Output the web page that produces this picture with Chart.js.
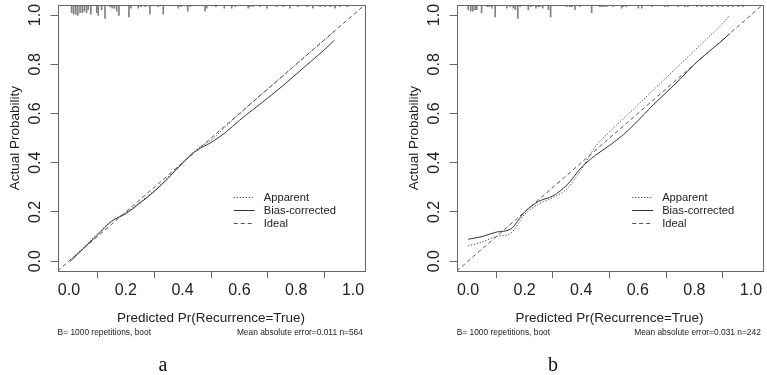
<!DOCTYPE html>
<html>
<head>
<meta charset="utf-8">
<script src="https://cdn.jsdelivr.net/npm/chart.js@4.4.1/dist/chart.umd.min.js"></script>
<style>
html, body { margin: 0; padding: 0; background: #fff; }
#wrap { position: relative; width: 767px; height: 375px; overflow: hidden; }
canvas { position: absolute; top: 0; }
#calA { left: 0; }
#calB { left: 384px; }
</style>
</head>
<body>
<div id="wrap">
  <canvas id="calA" width="384" height="375"></canvas>
  <canvas id="calB" width="383" height="375"></canvas>
</div>
<script>
'use strict';

// axis ticks (both panels)
const tickValues = [0, 0.2, 0.4, 0.6, 0.8, 1.0];
const axisRange = [-0.04, 1.04];
const idealLine = [-0.04, 1.04];

// panel a: calibration curves
const predA = [0.005, 0.05, 0.1, 0.15, 0.2, 0.25, 0.3, 0.35, 0.4, 0.45, 0.5, 0.55, 0.6, 0.65, 0.7, 0.75, 0.8, 0.85, 0.9, 0.935];
const apparentA = [0.005, 0.055, 0.11, 0.163, 0.197, 0.24, 0.286, 0.342, 0.402, 0.455, 0.492, 0.545, 0.598, 0.65, 0.70, 0.75, 0.80, 0.85, 0.90, 0.935];
const biasA = [0.0, 0.05, 0.106, 0.162, 0.193, 0.236, 0.283, 0.338, 0.398, 0.45, 0.482, 0.522, 0.572, 0.618, 0.663, 0.71, 0.76, 0.81, 0.86, 0.898];

// panel a: rug of predicted values (x, frequency)
const rugXA = [0.0095, 0.0165, 0.024, 0.031, 0.039, 0.047, 0.054, 0.062, 0.068, 0.077, 0.098, 0.103, 0.115, 0.127, 0.144, 0.152, 0.16, 0.168, 0.176,
  0.211, 0.218, 0.244, 0.254, 0.268, 0.285, 0.314, 0.332, 0.385, 0.394, 0.418, 0.426, 0.479, 0.485, 0.517, 0.547, 0.573, 0.585, 0.631, 0.637,
  0.648, 0.673, 0.697, 0.732, 0.754, 0.778, 0.806, 0.838, 0.859, 0.884, 0.901, 0.919, 0.937, 0.954, 0.979];
const rugNA = [5, 6, 6, 7, 5, 5, 4, 5, 3, 6, 5, 7, 3, 9, 1, 2, 2, 4, 7,
  8, 2, 2, 1, 1, 6, 1, 6, 2, 1, 4, 1, 4, 2, 1, 2, 2, 1, 2, 1,
  1, 1, 2, 1, 1, 2, 1, 1, 2, 1, 1, 1, 2, 1, 1];

// panel b: calibration curves
const predB = [0.0, 0.05, 0.1, 0.15, 0.2, 0.25, 0.3, 0.35, 0.4, 0.45, 0.5, 0.55, 0.6, 0.65, 0.7, 0.75, 0.8, 0.85, 0.9, 0.925];
const apparentB = [0.062, 0.078, 0.10, 0.113, 0.19, 0.232, 0.258, 0.295, 0.372, 0.465, 0.525, 0.58, 0.635, 0.69, 0.745, 0.80, 0.855, 0.91, 0.965, 1.0];
const biasB = [0.089, 0.10, 0.118, 0.13, 0.20, 0.243, 0.265, 0.31, 0.38, 0.43, 0.47, 0.515, 0.57, 0.63, 0.685, 0.74, 0.80, 0.85, 0.898, 0.925];

// panel b: rug
const rugXB = [0.001, 0.0095, 0.017, 0.025, 0.031, 0.048, 0.068, 0.075, 0.084, 0.096, 0.137, 0.148, 0.16, 0.167, 0.176, 0.184,
  0.213, 0.222, 0.24, 0.248, 0.254, 0.264, 0.284, 0.292, 0.349, 0.36, 0.366, 0.378, 0.396, 0.437, 0.466, 0.473, 0.481, 0.49,
  0.513, 0.543, 0.549, 0.56, 0.602, 0.614, 0.65, 0.696, 0.707, 0.742, 0.767, 0.777, 0.809, 0.827, 0.845, 0.862, 0.883, 0.901,
  0.919, 0.936, 0.954, 0.972];
const rugNB = [3, 4, 4, 3, 3, 5, 1, 1, 2, 8, 2, 1, 2, 3, 9, 1,
  3, 1, 2, 1, 1, 2, 3, 8, 1, 1, 1, 3, 1, 5, 1, 1, 1, 1,
  1, 2, 1, 1, 2, 2, 1, 1, 1, 1, 1, 1, 1, 1, 1, 1, 1, 1,
  1, 1, 1, 1];

const legendLabels = ['Apparent', 'Bias-corrected', 'Ideal'];
const xTitle = 'Predicted Pr(Recurrence=True)';
const yTitle = 'Actual Probability';
const subLeft = 'B= 1000 repetitions, boot';

const FONT = '"Liberation Sans", Arial, sans-serif';
const RUG_UNIT = 0.006;
const STYLES = [
  { color: '#444', dash: [1.2, 1.8], width: 1 },   // apparent
  { color: '#333', dash: [], width: 1 },           // bias-corrected
  { color: '#555', dash: [4, 3], width: 1 }        // ideal
];

// draws the R-style frame, labels, legend and panel letter
const rDecor = {
  id: 'rDecor',
  afterDraw(chart, args, o) {
    const { ctx, chartArea: a, scales: { x, y } } = chart;
    ctx.save();
    ctx.strokeStyle = '#666';
    ctx.lineWidth = 1;
    ctx.setLineDash([]);
    ctx.strokeRect(Math.round(a.left) + 0.5, Math.round(a.top) + 0.5,
      Math.round(a.right - a.left), Math.round(a.bottom - a.top));

    ctx.fillStyle = '#222';
    ctx.textAlign = 'center';
    ctx.textBaseline = 'middle';
    ctx.font = '16px ' + FONT;
    x.ticks.forEach(t => ctx.fillText(t.value.toFixed(1), x.getPixelForValue(t.value), a.bottom + 20));
    y.ticks.forEach(t => {
      ctx.save();
      ctx.translate(a.left - 22, y.getPixelForValue(t.value));
      ctx.rotate(-Math.PI / 2);
      ctx.fillText(t.value.toFixed(1), 0, 0);
      ctx.restore();
    });

    ctx.font = '13.5px ' + FONT;
    ctx.fillText(xTitle, (a.left + a.right) / 2, a.bottom + 47);
    ctx.save();
    ctx.translate(a.left - 42.5, (a.top + a.bottom) / 2);
    ctx.rotate(-Math.PI / 2);
    ctx.fillText(yTitle, 0, 0);
    ctx.restore();

    ctx.font = '8.4px ' + FONT;
    ctx.textAlign = 'left';
    ctx.fillText(subLeft, a.left, a.bottom + 62);
    ctx.textAlign = 'right';
    ctx.fillText(o.mae, a.right - 1.5, a.bottom + 62);

    // legend
    const lx = x.getPixelForValue(0.58);
    const ly = y.getPixelForValue(0.26);
    ctx.font = '11.2px ' + FONT;
    ctx.textAlign = 'left';
    legendLabels.forEach((lab, i) => {
      const st = STYLES[i];
      const yy = Math.round(ly + i * 13) + 0.5;
      ctx.beginPath();
      ctx.strokeStyle = st.color;
      ctx.lineWidth = st.width;
      ctx.setLineDash(st.dash);
      ctx.moveTo(lx, yy);
      ctx.lineTo(lx + 21, yy);
      ctx.stroke();
      ctx.fillText(lab, lx + 30, yy);
    });
    ctx.setLineDash([]);

    ctx.fillStyle = '#111';
    ctx.textAlign = 'center';
    ctx.font = '20px "Liberation Serif", "Times New Roman", serif';
    ctx.fillText(o.letter, o.letterX, 366);
    ctx.restore();
  }
};

function axisOpts(fitFn) {
  return {
    type: 'linear',
    min: axisRange[0],
    max: axisRange[1],
    offset: false,
    afterBuildTicks: s => { s.ticks = tickValues.map(v => ({ value: v })); },
    afterFit: fitFn,
    ticks: { display: false },
    grid: { display: true, drawOnChartArea: false, drawTicks: true, tickLength: 7, color: '#666', lineWidth: 1 },
    border: { display: false }
  };
}

function renderCalibration(canvasId, cfg) {
  const canvas = document.getElementById(canvasId);
  const ctx = canvas.getContext('2d');
  const lineSet = (xs, ys, st) => ({
    type: 'line',
    data: xs.map((v, i) => ({ x: v, y: ys[i] })),
    borderColor: st.color,
    borderDash: st.dash,
    borderWidth: st.width,
    pointRadius: 0,
    fill: false,
    cubicInterpolationMode: 'monotone'
  });

  return new Chart(ctx, {
    type: 'line',
    data: {
      datasets: [
        {
          type: 'bar',
          data: cfg.rugX.map((v, i) => ({ x: v, y: [axisRange[1] - cfg.rugN[i] * RUG_UNIT, axisRange[1]] })),
          backgroundColor: '#808080',
          borderWidth: 0,
          barThickness: 1,
          grouped: false
        },
        lineSet(idealLine, idealLine, STYLES[2]),
        lineSet(cfg.pred, cfg.apparent, STYLES[0]),
        lineSet(cfg.pred, cfg.bias, STYLES[1])
      ]
    },
    options: {
      responsive: false,
      devicePixelRatio: 1,
      animation: false,
      events: [],
      layout: { padding: { left: 0, top: 5.2, right: cfg.padRight, bottom: 0 } },
      scales: {
        x: axisOpts(s => { s.height = 104; }),
        y: axisOpts(s => { s.width = cfg.yWidth; })
      },
      plugins: {
        legend: { display: false },
        tooltip: { enabled: false },
        rDecor: { letter: cfg.letter, letterX: cfg.letterX, mae: cfg.mae }
      }
    },
    plugins: [rDecor]
  });
}

renderCalibration('calA', {
  pred: predA, apparent: apparentA, bias: biasA, rugX: rugXA, rugN: rugNA,
  yWidth: 57.6, padRight: 19.6, letter: 'a', letterX: 163,
  mae: 'Mean absolute error=0.011 n=564'
});

renderCalibration('calB', {
  pred: predB, apparent: apparentB, bias: biasB, rugX: rugXB, rugN: rugNB,
  yWidth: 72.7, padRight: 4.7, letter: 'b', letterX: 169,
  mae: 'Mean absolute error=0.031 n=242'
});
</script>
</body>
</html>
